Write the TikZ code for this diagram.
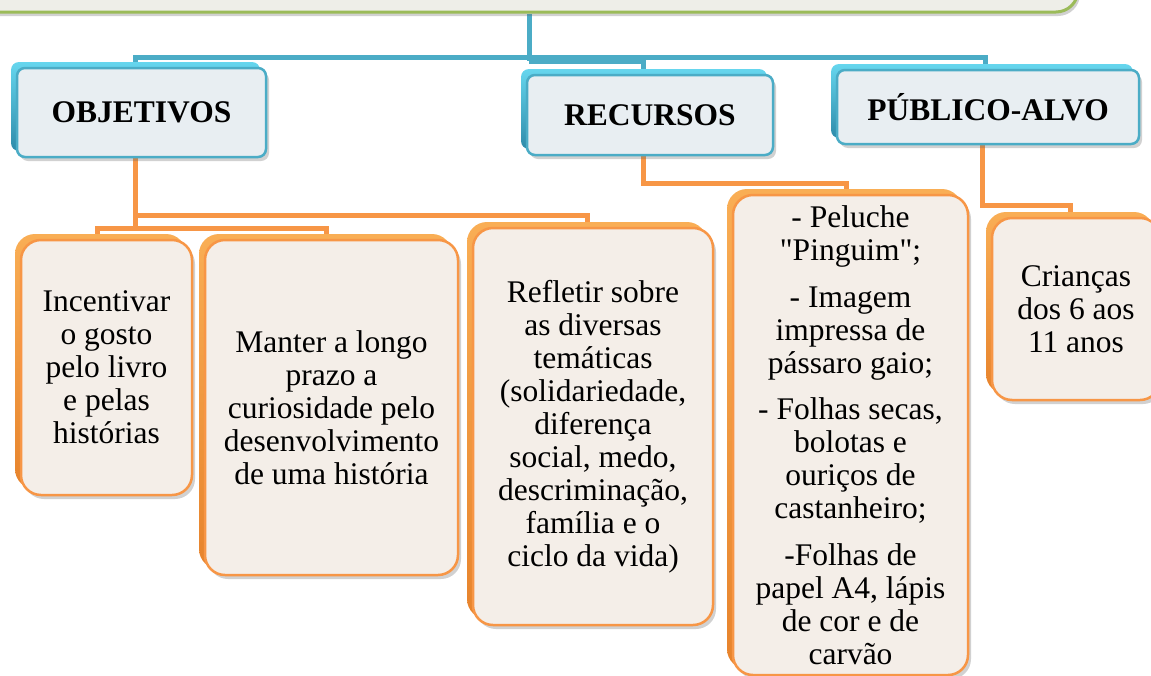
\documentclass[tikz,border=0pt]{standalone}
\usepackage{fontspec}
\setmainfont{Liberation Serif}[Ligatures=TeXOff]
\usetikzlibrary{shadows}
\definecolor{bl}{HTML}{4BACC6}
\definecolor{bldark}{HTML}{2E8BAA}
\definecolor{bllight}{HTML}{66D6EE}
\definecolor{blface}{HTML}{E8EEF2}
\definecolor{og}{HTML}{F79646}
\definecolor{ogdark}{HTML}{E7832C}
\definecolor{oglight}{HTML}{F9AE55}
\definecolor{ogface}{HTML}{F4EEE8}
\definecolor{gr}{HTML}{9BBB59}
\definecolor{topface}{HTML}{EEEEE8}
\pgfdeclarelayer{bg}
\pgfsetlayers{bg,main}
\begin{document}
\begin{tikzpicture}[x=1pt,y=-1pt,
  txt/.style={font=\fontsize{31.5pt}{33pt}\selectfont, align=center, inner sep=0pt},
  headbox/.style={txt, font=\fontsize{31.5pt}{33pt}\selectfont\bfseries, rectangle,
     rounded corners=8pt, draw=bl, line width=2.5pt, fill=blface,
     drop shadow={shadow xshift=3pt, shadow yshift=-4pt, opacity=0.3, fill=black!60},
     general shadow={shadow xshift=-6pt, shadow yshift=6pt, top color=bllight, bottom color=bldark}},
  leafbox/.style={txt, rectangle, rounded corners=20pt, draw=og, line width=2.5pt, fill=ogface,
     drop shadow={shadow xshift=3pt, shadow yshift=-4pt, opacity=0.3, fill=black!60},
     general shadow={shadow xshift=-6pt, shadow yshift=6pt, top color=oglight, bottom color=ogdark}},
  topbox/.style={rectangle, rounded corners=22pt, draw=gr, line width=3pt, fill=topface,
     drop shadow={shadow xshift=2pt, shadow yshift=-4pt, opacity=0.3, fill=black!60}},
  bline/.style={draw=bl, line width=5pt},
  oline/.style={draw=og, line width=5pt},
]
\useasboundingbox (0,0) rectangle (1151,675);

% top box
\node[topbox, minimum width=1108pt, minimum height=72pt] (top) at (524,-24) {};

% header boxes
\node[headbox, minimum width=249pt, minimum height=89pt] (obj) at (141.5,112.5) {OBJETIVOS};
\node[headbox, minimum width=246pt, minimum height=80pt] (rec) at (650,115) {RECURSOS};
\node[headbox, minimum width=302pt, minimum height=74pt] (pub) at (988,107) {PÚBLICO-ALVO};

% leaf boxes
\node[leafbox, minimum width=171pt, minimum height=255pt] (b1) at (106.5,367.5)
  {Incentivar\\o gosto\\pelo livro\\e pelas\\histórias};
\node[leafbox, minimum width=253pt, minimum height=335pt] (b2) at (331.5,407.5)
  {Manter a longo\\prazo a\\curiosidade pelo\\desenvolvimento\\de uma história};
\node[leafbox, minimum width=240pt, minimum height=397pt] (b3) at (593,426.5)
  {Refletir sobre\\as diversas\\temáticas\\(solidariedade,\\diferença\\social, medo,\\descriminação,\\família e o\\ciclo da vida)};
\node[leafbox, minimum width=235pt, minimum height=480pt] (b4) at (850.5,435)
  {- Peluche\\"Pinguim";\\[13.5pt]- Imagem\\impressa de\\pássaro gaio;\\[13.5pt]- Folhas secas,\\bolotas e\\ouriços de\\castanheiro;\\[13.5pt]-Folhas de\\papel A4, lápis\\de cor e de\\carvão};
\node[leafbox, minimum width=168pt, minimum height=182pt] (b5) at (1076,309)
  {Crianças\\dos 6 aos\\11 anos};

% connectors
\coordinate (hub) at (529,57.5);
\coordinate (hub2) at (529,61);
\coordinate (oj) at (135,228.5);
\coordinate (oj3) at (135,215.5);
\coordinate (rj) at (643,183);
\coordinate (pj) at (982,205);
\begin{pgfonlayer}{bg}
\draw[bline] (hub |- top.south) -- (hub2);
\draw[bline] ([xshift=-6.5pt]obj.north) |- (hub) -| ([xshift=-3pt]pub.north);
\draw[bline] (hub2) -| ([xshift=-7pt]rec.north);
\draw[oline] ([xshift=-6.5pt]obj.south) -- (oj);
\draw[oline] (oj) -| ([xshift=-9.5pt]b1.north);
\draw[oline] (oj) -| ([xshift=-5.5pt]b2.north);
\draw[oline] (oj3) -| ([xshift=-6pt]b3.north);
\draw[oline] ([xshift=-7pt]rec.south) -- (rj) -| ([xshift=-4.5pt]b4.north);
\draw[oline] ([xshift=-6pt]pub.south) -- (pj) -| ([xshift=-6pt]b5.north);
\end{pgfonlayer}
\end{tikzpicture}
\end{document}
